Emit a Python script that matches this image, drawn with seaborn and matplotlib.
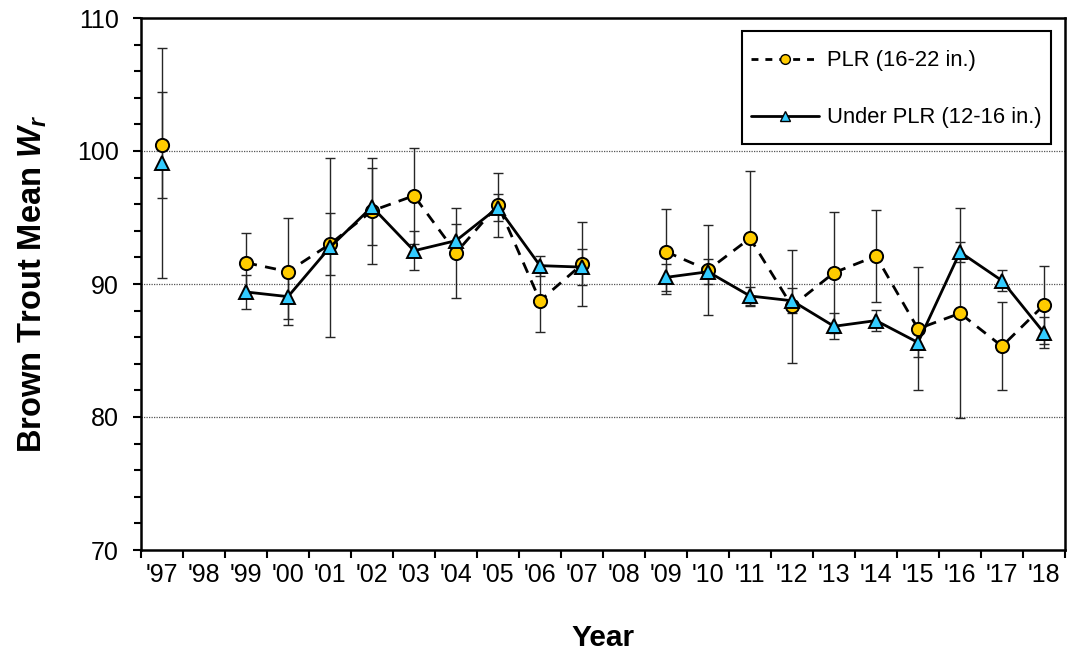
import numpy as np
import pandas as pd
import matplotlib
matplotlib.use("Agg")
import matplotlib.pyplot as plt
from matplotlib.lines import Line2D
import seaborn as sns

# ---- data ----
year_labels = ["'97", "'98", "'99", "'00", "'01", "'02", "'03", "'04", "'05", "'06", "'07",
               "'08", "'09", "'10", "'11", "'12", "'13", "'14", "'15", "'16", "'17", "'18"]
plr_mean = [100.45, np.nan, 91.6, 90.93, 93.0, 95.5, 96.64, 92.35, 95.95, 88.74, 91.48,
            np.nan, 92.43, 91.05, 93.44, 88.33, 90.85, 92.1, 86.63, 87.8, 85.32, 88.42]
plr_err = [3.95, np.nan, 2.26, 4.02, 2.31, 4.0, 3.6, 3.38, 2.4, 2.37, 3.17,
           np.nan, 3.2, 3.35, 5.06, 4.25, 4.55, 3.45, 4.63, 7.9, 3.3, 2.9]
under_mean = [99.1, np.nan, 89.4, 89.05, 92.77, 95.8, 92.5, 93.26, 95.75, 91.38, 91.27,
              np.nan, 90.5, 90.92, 89.1, 88.74, 86.82, 87.25, 85.6, 92.4, 90.25, 86.33]
under_err = [8.65, np.nan, 1.26, 1.65, 6.73, 2.9, 1.45, 1.24, 1.0, 0.76, 1.37,
             np.nan, 1.0, 0.94, 0.7, 0.94, 0.97, 0.78, 1.1, 0.73, 0.8, 1.17]
series_names = ["PLR (16-22 in.)", "Under PLR (12-16 in.)"]

# ---- style ----
sns.set_theme(style="white")
plt.rcParams["font.family"] = ["Liberation Sans", "DejaVu Sans"]
plt.rcParams["text.color"] = "black"
plt.rcParams["axes.labelcolor"] = "black"
plt.rcParams["mathtext.fontset"] = "custom"
plt.rcParams["mathtext.it"] = "Liberation Sans:italic:bold"
plt.rcParams["mathtext.rm"] = "Liberation Sans:bold"

fig = plt.figure(figsize=(10.71, 6.56), dpi=100)
ax = fig.add_axes([141 / 1071, (656 - 550) / 656, (1065 - 141) / 1071, (550 - 18) / 656])

pos = np.arange(len(year_labels))


def make_df(mean, err):
    m = np.array(mean, dtype=float)
    seg = np.cumsum(np.isnan(m))
    df = pd.DataFrame({"pos": pos, "val": m, "err": err, "seg": seg})
    return df.dropna()


df_plr = make_df(plr_mean, plr_err)
df_und = make_df(under_mean, under_err)

# error bars
for df, zo in ((df_plr, 2.2), (df_und, 2.1)):
    ax.errorbar(df["pos"], df["val"], yerr=df["err"], fmt="none", ecolor="#262626",
                elinewidth=1.0, capsize=3.8, capthick=1.0, zorder=zo)

# PLR: dashed line with gold circles
sns.lineplot(data=df_plr, x="pos", y="val", units="seg", estimator=None, ax=ax,
             color="black", linewidth=2.0, linestyle=(0, (4, 3)), marker="o",
             markersize=9.5, markerfacecolor="#FFCC00", markeredgecolor="black",
             markeredgewidth=1.4, zorder=3, legend=False)
# Under PLR: solid line with blue triangles
sns.lineplot(data=df_und, x="pos", y="val", units="seg", estimator=None, ax=ax,
             color="black", linewidth=2.0, linestyle="-", marker="^",
             markersize=9.5, markerfacecolor="#33CCFF", markeredgecolor="black",
             markeredgewidth=1.4, zorder=4, legend=False)

# axes
ax.set_xlim(-0.5, len(year_labels) - 0.5)
ax.set_ylim(70, 110)
ax.set_yticks(np.arange(70, 111, 10))
ax.set_yticks(np.arange(70, 111, 2), minor=True)
ax.set_xticks(np.arange(-0.5, len(year_labels), 1))
ax.set_xticklabels([""] * len(np.arange(-0.5, len(year_labels), 1)))
ax.set_xticks(pos, minor=True)
ax.set_xticklabels(year_labels, minor=True)

ax.tick_params(axis="x", which="major", direction="out", length=6, width=1.5,
               color="black", bottom=True)
ax.tick_params(axis="x", which="minor", length=0, pad=9, labelsize=18,
               labelcolor="black", bottom=True)
ax.tick_params(axis="y", which="major", direction="out", length=6, width=1.5,
               color="black", pad=10, labelsize=18, labelcolor="black", left=True)
ax.tick_params(axis="y", which="minor", direction="out", length=5, width=1.5,
               color="black", left=True)

for sp in ax.spines.values():
    sp.set_visible(True)
    sp.set_color("black")
    sp.set_linewidth(1.8)

ax.grid(False)
for yv in (80, 90, 100):
    ax.axhline(yv, color="#555555", linewidth=0.9, linestyle=(0, (1, 1)), zorder=1)

ax.set_xlabel("Year", fontsize=21.5, fontweight="bold", labelpad=27, color="black")
ax.set_ylabel(r"Brown Trout Mean $W_r$", fontsize=23.5, fontweight="bold",
              labelpad=20, color="black")

handles = [
    Line2D([0], [0], color="black", linewidth=2.0, linestyle=(0, (2.5, 2.5)), marker="o",
           markersize=7, markerfacecolor="#FFCC00", markeredgecolor="black",
           markeredgewidth=1.0),
    Line2D([0], [0], color="black", linewidth=2.0, linestyle="-", marker="^",
           markersize=7, markerfacecolor="#33CCFF", markeredgecolor="black",
           markeredgewidth=1.0),
]
leg = ax.legend(handles, series_names, loc="upper right",
                bbox_to_anchor=(1051 / 1071, 1 - 31 / 656), bbox_transform=fig.transFigure,
                borderaxespad=0, fontsize=15.8, handlelength=3.1, handletextpad=0.37,
                handleheight=2.3, labelspacing=0.85, borderpad=0.42, frameon=True,
                fancybox=False, edgecolor="black", framealpha=1)
leg.get_frame().set_linewidth(1.5)
for t in leg.get_texts():
    t.set_color("black")
# lower the legend sample lines so they sit on the text's centre line
for h in leg.legend_handles:
    h.set_ydata(np.asarray(h.get_ydata(), dtype=float) - 4.3)

fig.savefig("out.png", dpi=100)
